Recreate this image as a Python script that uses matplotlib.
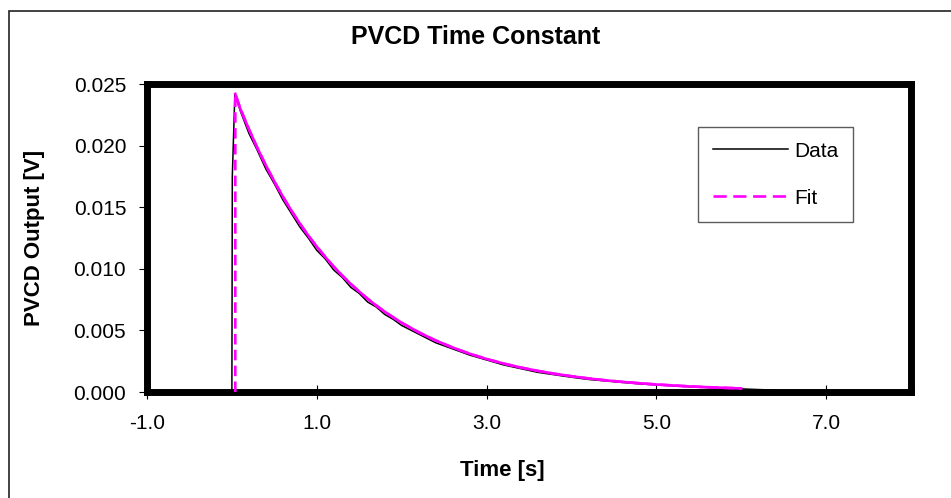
import matplotlib.pyplot as plt
from matplotlib.patches import Rectangle

plt.rcParams['font.family'] = ['Liberation Sans', 'DejaVu Sans']

# measured trace (time in s, output in V)
data_t = [0.0, 0.005, 0.035, 0.1, 0.2, 0.3, 0.4, 0.5, 0.6, 0.7, 0.8, 0.9,
          1.0, 1.1, 1.2, 1.3, 1.4, 1.5, 1.6, 1.7, 1.8, 1.9, 2.0, 2.2, 2.4,
          2.6, 2.8, 3.0, 3.2, 3.4, 3.6, 3.8, 4.0, 4.2, 4.4, 4.6, 4.8, 5.0,
          5.2, 5.4, 5.6, 5.8, 6.0, 6.2, 6.4]
data_v = [0.0, 0.0175, 0.0242, 0.0228, 0.0210, 0.0196, 0.0181, 0.0169,
          0.0156, 0.0145, 0.0134, 0.0125, 0.0115, 0.0108, 0.0099, 0.0093,
          0.0085, 0.0080, 0.0073, 0.0069, 0.0063, 0.0059, 0.0054, 0.0047,
          0.0040, 0.0035, 0.0030, 0.0026, 0.0022, 0.0019, 0.0016, 0.0014,
          0.0012, 0.00102, 0.0009, 0.00078, 0.00066, 0.00058, 0.0005,
          0.00042, 0.00036, 0.0003, 0.00025, 0.0002, 0.00015]

# fitted curve
fit_t = [0.04, 0.04, 0.1, 0.2, 0.3, 0.4, 0.5, 0.6, 0.7, 0.8, 0.9, 1.0, 1.1,
         1.2, 1.3, 1.4, 1.5, 1.6, 1.7, 1.8, 1.9, 2.0, 2.2, 2.4, 2.6, 2.8,
         3.0, 3.2, 3.4, 3.6, 3.8, 4.0, 4.2, 4.4, 4.6, 4.8, 5.0, 5.2, 5.4,
         5.6, 5.8, 6.0]
fit_v = [0.0, 0.0242, 0.02298, 0.02134, 0.01981, 0.01840, 0.01709, 0.01587,
         0.01473, 0.01368, 0.01270, 0.01180, 0.01096, 0.01017, 0.00945,
         0.00877, 0.00815, 0.00756, 0.00702, 0.00652, 0.00606, 0.00562,
         0.00485, 0.00418, 0.00361, 0.00311, 0.00268, 0.00231, 0.00199,
         0.00172, 0.00148, 0.00128, 0.00110, 0.00095, 0.00082, 0.00071,
         0.00061, 0.00053, 0.00045, 0.00039, 0.00034, 0.00029]

x_ticks = [-1.0, 1.0, 3.0, 5.0, 7.0]
y_ticks = [0.0, 0.005, 0.010, 0.015, 0.020, 0.025]

fig = plt.figure(figsize=(9.51, 4.98), dpi=100)
ax = fig.add_axes([147/951, 1-392/498, (911-147)/951, (392-84)/498])

ax.plot(data_t, data_v, color='black', lw=1.1, label='Data', zorder=3)
ax.plot(fit_t, fit_v, color='#FF00FF', lw=1.9, ls=(0, (4, 2)), label='Fit', zorder=4)
# Excel draws the dense decay part practically solid
ax.plot(fit_t[1:], fit_v[1:], color='#FF00FF', lw=1.9, zorder=4)

ax.set_xlim(-1, 8)
ax.set_ylim(0, 0.025)
ax.set_xticks(x_ticks)
ax.set_xticklabels(['%.1f' % v for v in x_ticks])
ax.set_yticks(y_ticks)
ax.set_yticklabels(['%.3f' % v for v in y_ticks])
ax.tick_params(axis='x', direction='inout', length=10, width=0.8, labelsize=15, pad=11)
ax.tick_params(axis='y', direction='out', length=6, width=0.8, labelsize=15, pad=9)

for sp in ax.spines.values():
    sp.set_linewidth(5)
    sp.set_color('black')

leg = ax.legend(loc='upper left', bbox_to_anchor=(698/951, 1-127/498),
                bbox_transform=fig.transFigure, fontsize=15, frameon=True,
                fancybox=False, edgecolor='#333333', handlelength=3.6,
                handletextpad=0.3, labelspacing=1.35, borderpad=0.7,
                borderaxespad=0)
leg.get_frame().set_linewidth(1.0)
leg.legend_handles[1].set_linestyle((0, (5, 2.5)))

fig.text(476/951, 1-37/498, 'PVCD Time Constant', ha='center', va='center',
         fontsize=18, fontweight='bold')
fig.text(35/951, 1-238/498, 'PVCD Output [V]', ha='center', va='center',
         rotation=90, fontsize=16, fontweight='bold')
fig.text(502/951, 1-470/498, 'Time [s]', ha='center', va='center',
         fontsize=16, fontweight='bold')

# chart area border (only left and top edges fall inside the image)
fig.patches.append(Rectangle((9/951, -0.1), 1.2, 1-11/498+0.1,
                             transform=fig.transFigure, fill=False,
                             edgecolor='#222222', lw=1.2))

fig.savefig('out.png', dpi=100)
